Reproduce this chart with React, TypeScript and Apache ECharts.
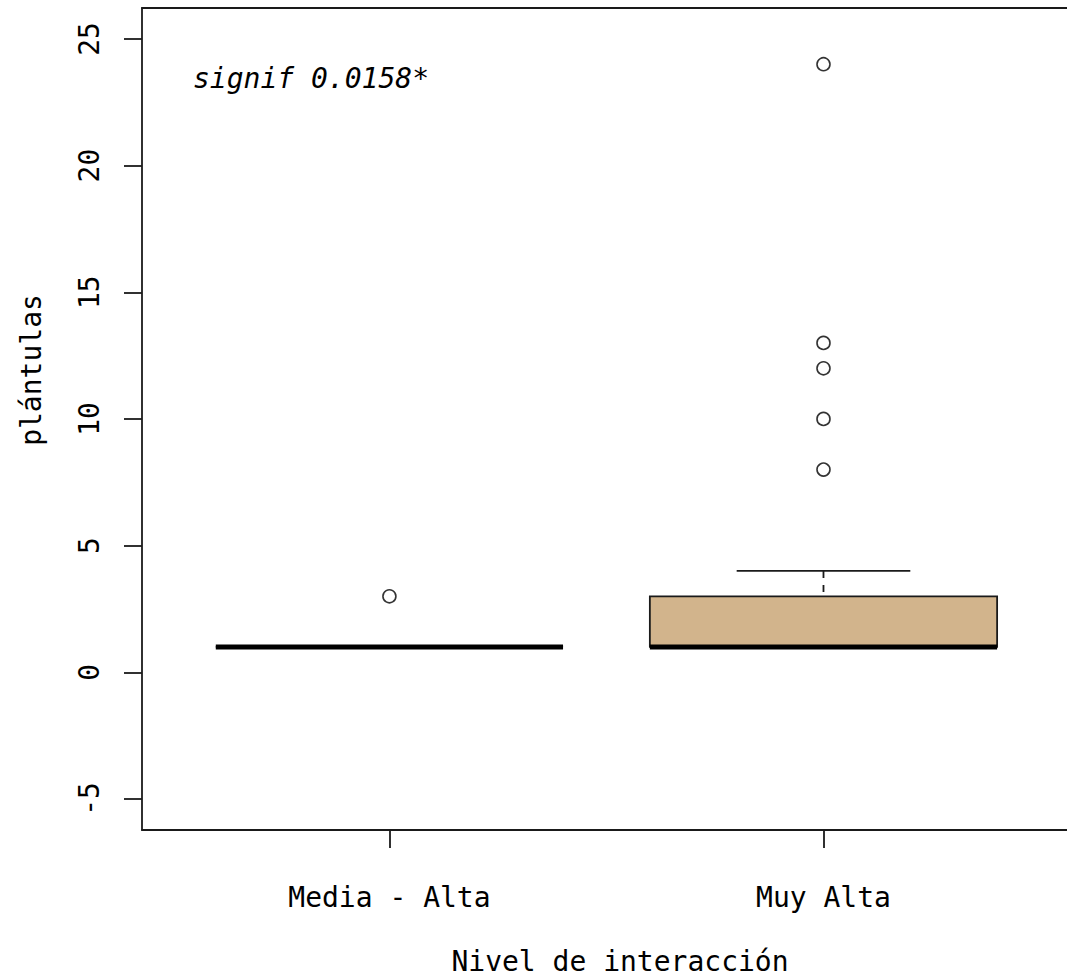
import React, { useEffect, useRef } from "react";
import * as echarts from "echarts";

const categories = ["Media - Alta", "Muy Alta"];
const whiskerLow = [1, 1];
const q1 = [1, 1];
const median = [1, 1];
const q3 = [1, 3];
const whiskerHigh = [1, 4];
const outliers = [[3], [8, 10, 12, 13, 24]];
const yTicks = [-5, 0, 5, 10, 15, 20, 25];
const xTicks = [1, 2];
const annotation = "signif 0.0158*";
const yTitle = "plántulas";
const xTitle = "Nivel de interacción";

const FONT = "DejaVu Sans Mono";
const INK = "#1a1a1a";

export default function App() {
  const ref = useRef<HTMLDivElement>(null);
  useEffect(() => {
    if (!ref.current) return;
    const chart = echarts.init(ref.current, null, { renderer: "svg" });
    const boxData = categories.map((_, i) => [
      i + 1,
      whiskerLow[i],
      q1[i],
      median[i],
      q3[i],
      whiskerHigh[i],
    ]);
    const outData: number[][] = [];
    outliers.forEach((arr, i) => arr.forEach((v) => outData.push([i + 1, v])));

    const option: any = {
      animation: false,
      backgroundColor: "#ffffff",
      grid: { left: 142, top: 8, right: 0, bottom: 150 },
      xAxis: [
        {
          type: "value",
          min: 0.43,
          max: 2.561,
          position: "bottom",
          splitLine: { show: false },
          axisLine: { show: true, onZero: false, lineStyle: { color: INK, width: 1.8 } },
          axisTick: {
            show: true,
            customValues: xTicks,
            length: 18,
            lineStyle: { color: INK, width: 1.8 },
          },
          axisLabel: {
            customValues: xTicks,
            formatter: (v: number) => categories[Math.round(v) - 1] ?? "",
            fontFamily: FONT,
            fontSize: 28,
            color: "#000",
            margin: 53,
          },
        },
        {
          type: "value",
          min: 0.43,
          max: 2.561,
          position: "top",
          splitLine: { show: false },
          axisLine: { show: true, onZero: false, lineStyle: { color: INK, width: 1.8 } },
          axisTick: { show: false },
          axisLabel: { show: false },
        },
      ],
      yAxis: {
        type: "value",
        min: -6.225,
        max: 26.22,
        splitLine: { show: false },
        axisLine: { show: true, onZero: false, lineStyle: { color: INK, width: 1.8 } },
        axisTick: {
          show: true,
          customValues: yTicks,
          length: 18,
          lineStyle: { color: INK, width: 1.8 },
        },
        axisLabel: {
          customValues: yTicks,
          rotate: 90,
          fontFamily: FONT,
          fontSize: 28,
          color: "#000",
          margin: 39,
        },
      },
      graphic: [
        {
          type: "text",
          x: 193,
          y: 78,
          style: {
            text: annotation,
            fontFamily: FONT,
            fontStyle: "italic",
            fontSize: 28,
            fill: "#000",
            textAlign: "left",
            textVerticalAlign: "middle",
          },
        },
        {
          type: "text",
          x: 31,
          y: 370,
          rotation: Math.PI / 2,
          style: {
            text: yTitle,
            fontFamily: FONT,
            fontSize: 28,
            fill: "#000",
            textAlign: "center",
            textVerticalAlign: "middle",
          },
        },
        {
          type: "text",
          x: 620,
          y: 961,
          style: {
            text: xTitle,
            fontFamily: FONT,
            fontSize: 28,
            fill: "#000",
            textAlign: "center",
            textVerticalAlign: "middle",
          },
        },
      ],
      series: [
        {
          type: "custom",
          xAxisIndex: 0,
          yAxisIndex: 0,
          encode: { x: 0, y: [1, 2, 3, 4, 5] },
          data: boxData,
          clip: false,
          renderItem: (params: any, api: any) => {
            const x = api.value(0);
            const lo = api.value(1);
            const a = api.value(2);
            const m = api.value(3);
            const b = api.value(4);
            const hi = api.value(5);
            const hw = 0.4;
            const cw = 0.2;
            const tl = api.coord([x - hw, b]);
            const br = api.coord([x + hw, a]);
            const c = api.coord([x, 0]);
            const yHi = api.coord([x, hi])[1];
            const yLo = api.coord([x, lo])[1];
            const yB = tl[1];
            const yA = br[1];
            const yM = api.coord([x, m])[1];
            const capL = api.coord([x - cw, 0])[0];
            const capR = api.coord([x + cw, 0])[0];
            const children: any[] = [];
            children.push({
              type: "line",
              shape: { x1: c[0], y1: yHi, x2: c[0], y2: yB },
              style: { stroke: INK, lineWidth: 1.8, lineDash: [7, 7] },
            });
            children.push({
              type: "line",
              shape: { x1: c[0], y1: yLo, x2: c[0], y2: yA },
              style: { stroke: INK, lineWidth: 1.8, lineDash: [7, 7] },
            });
            children.push({
              type: "line",
              shape: { x1: capL, y1: yHi, x2: capR, y2: yHi },
              style: { stroke: INK, lineWidth: 1.8 },
            });
            children.push({
              type: "line",
              shape: { x1: capL, y1: yLo, x2: capR, y2: yLo },
              style: { stroke: INK, lineWidth: 1.8 },
            });
            children.push({
              type: "rect",
              shape: { x: tl[0], y: yB, width: br[0] - tl[0], height: yA - yB },
              style: { fill: "#D2B48C", stroke: INK, lineWidth: 1.8 },
            });
            children.push({
              type: "line",
              shape: { x1: tl[0], y1: yM, x2: br[0], y2: yM },
              style: { stroke: "#000", lineWidth: 5 },
            });
            return { type: "group", children };
          },
        },
        {
          type: "scatter",
          xAxisIndex: 0,
          yAxisIndex: 0,
          data: outData,
          symbol: "circle",
          symbolSize: 13,
          itemStyle: { color: "#ffffff", borderColor: "#000", borderWidth: 1.6 },
          silent: true,
        },
      ],
    };
    chart.setOption(option);
    return () => chart.dispose();
  }, []);
  return (
    <div
      ref={ref}
      style={{ position: "absolute", left: 0, top: 0, width: 1067, height: 980 }}
    />
  );
}
